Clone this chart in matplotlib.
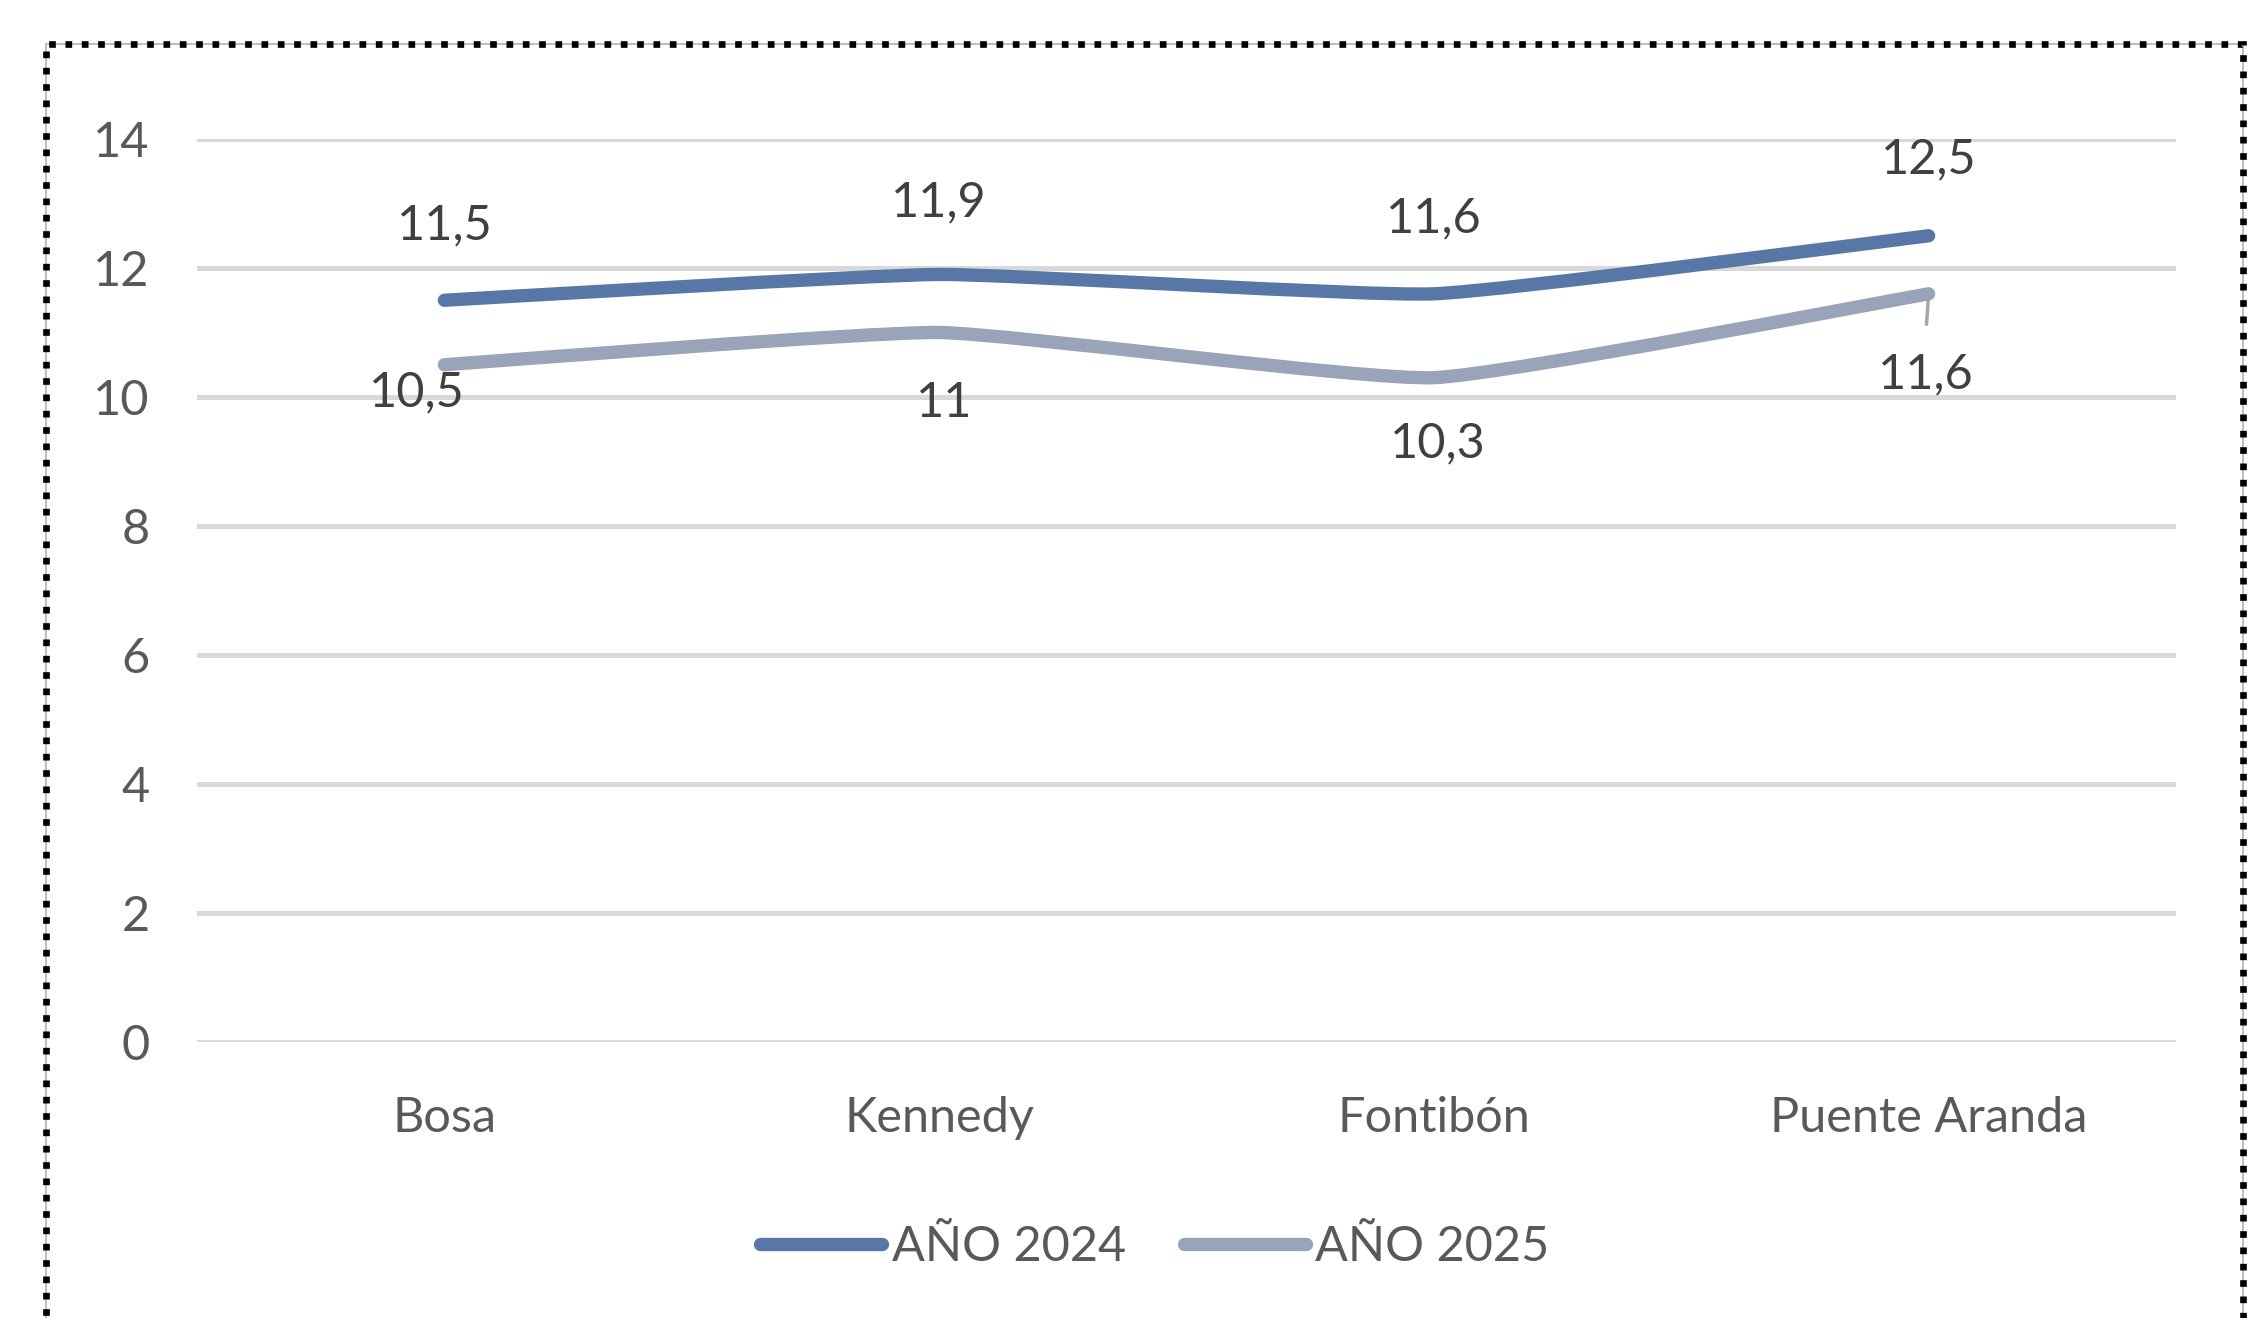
import matplotlib
matplotlib.use("Agg")
import matplotlib.pyplot as plt
from matplotlib.path import Path
from matplotlib.patches import PathPatch, Rectangle
from matplotlib.lines import Line2D
import numpy as np

categories = ["Bosa", "Kennedy", "Fontibón", "Puente Aranda"]
series_names = ["AÑO 2024", "AÑO 2025"]
values_2024 = [11.5, 11.9, 11.6, 12.5]
values_2025 = [10.5, 11.0, 10.3, 11.6]
labels_2024 = ["11,5", "11,9", "11,6", "12,5"]
labels_2025 = ["10,5", "11", "10,3", "11,6"]
yticks = [0, 2, 4, 6, 8, 10, 12, 14]

C2024 = "#5877A6"
C2025 = "#99A4B8"
GRID = "#D9D9D9"
TICK = "#595959"
LBL = "#404040"
FONT = ["Lato", "DejaVu Sans"]
FS = 35

plt.rcParams["font.family"] = FONT

W, H, DPI = 2266, 1318, 100
fig = plt.figure(figsize=(W / DPI, H / DPI), dpi=DPI)
ax = fig.add_axes([197 / W, 1 - 1042 / H, (2176 - 197) / W, (1042 - 139) / H])

x = np.arange(len(categories))


def smooth_path(xs, ys, k=14.0):
    pts = np.column_stack([xs, ys]).astype(float)
    verts = [pts[0]]
    codes = [Path.MOVETO]
    n = len(pts)
    for i in range(n - 1):
        p0 = pts[i - 1] if i > 0 else pts[i]
        p1 = pts[i]
        p2 = pts[i + 1]
        p3 = pts[i + 2] if i + 2 < n else pts[i + 1]
        c1 = p1 + (p2 - p0) / k
        c2 = p2 - (p3 - p1) / k
        verts += [c1, c2, p2]
        codes += [Path.CURVE4] * 3
    return Path(verts, codes)


lw = 9.6
for vals, col in [(values_2024, C2024), (values_2025, C2025)]:
    patch = PathPatch(smooth_path(x, vals), facecolor="none", edgecolor=col,
                      lw=lw, capstyle="round", joinstyle="round", zorder=3)
    ax.add_patch(patch)

ax.set_xlim(-0.5, 3.5)
ax.set_ylim(0, 14)
ax.set_yticks(yticks)
ax.set_yticklabels([str(t) for t in yticks])
ax.set_xticks(x)
ax.set_xticklabels(categories)
ax.grid(axis="y", color=GRID, lw=3.6, zorder=0)
ax.set_axisbelow(True)
for s in ax.spines.values():
    s.set_visible(False)
ax.tick_params(axis="both", length=0, labelsize=FS, labelcolor=TICK)
ax.tick_params(axis="y", pad=34)
ax.tick_params(axis="x", pad=39)

# data labels (offsets in points)
off_2024 = [(0, 54), (0, 52), (0, 54), (0, 55)]
off_2025 = [(-20, -20), (4, -51), (3, -47), (-2, -58)]
for i in range(len(categories)):
    ax.annotate(labels_2024[i], (x[i], values_2024[i]), xytext=off_2024[i],
                textcoords="offset points", ha="center", va="center",
                fontsize=FS, color=LBL, zorder=5)
    ax.annotate(labels_2025[i], (x[i], values_2025[i]), xytext=off_2025[i],
                textcoords="offset points", ha="center", va="center",
                fontsize=FS, color=LBL, zorder=5)

# leader line for Puente Aranda 2025 label
ax.annotate("", (x[3], values_2025[3]), xytext=(-1.5, -22),
            textcoords="offset points",
            arrowprops=dict(arrowstyle="-", color="#A6A6A6", lw=2.5,
                            shrinkA=0, shrinkB=0), zorder=2)

handles = [Line2D([], [], color=C2024, lw=lw, solid_capstyle="round"),
           Line2D([], [], color=C2025, lw=lw, solid_capstyle="round")]
leg = fig.legend(handles, series_names, loc="center", bbox_to_anchor=(1155 / W, 1 - 1247 / H),
                 ncol=2, frameon=False, fontsize=FS, handlelength=2.5,
                 handletextpad=0.2, columnspacing=1.2)
for t in leg.get_texts():
    t.set_color(TICK)

# dotted border
border_kw = dict(transform=None, fill=False, zorder=10)
fig.patches.append(Rectangle((46, H - 1340), 2243 - 46, 1340 - 44, edgecolor="#BFBFBF",
                             lw=1.5, **border_kw))
r = Rectangle((46, H - 1340), 2243 - 46, 1340 - 44, edgecolor="black", lw=4.8,
              linestyle=(0, (1.0, 1.45)), capstyle="butt", **border_kw)
fig.patches.append(r)

fig.savefig("out.png", dpi=DPI)
